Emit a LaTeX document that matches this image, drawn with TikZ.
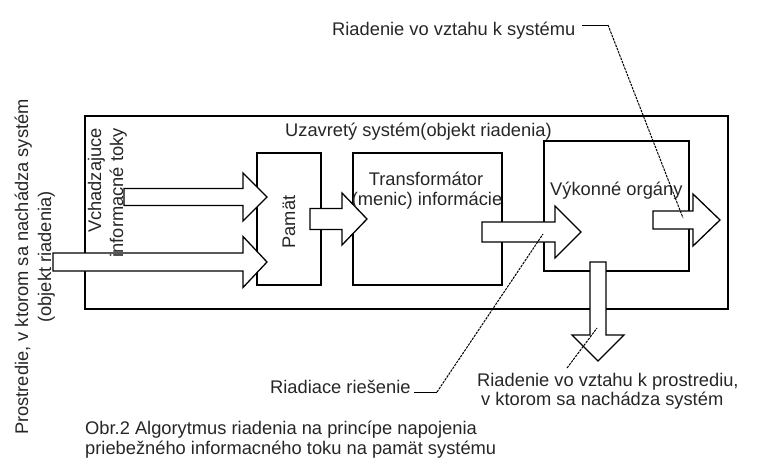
\documentclass[tikz,border=0pt]{standalone}
\usepackage{fontspec}
\setmainfont{Liberation Sans}
\newcommand\rblk[6]{% x0, base, tip, yc, shaft half, head half
  \draw[blk] ({#1},{-(#4)+(#5)}) -- ({#2},{-(#4)+(#5)}) -- ({#2},{-(#4)+(#6)}) -- ({#3},{-(#4)}) -- ({#2},{-(#4)-(#6)}) -- ({#2},{-(#4)-(#5)}) -- ({#1},{-(#4)-(#5)}) -- cycle;}
\newcommand\dblk[6]{% y0, base, tip, xc, shaft half, head half
  \draw[blk] ({(#4)-(#5)},{-(#1)}) -- ({(#4)-(#5)},{-(#2)}) -- ({(#4)-(#6)},{-(#2)}) -- ({#4},{-(#3)}) -- ({(#4)+(#6)},{-(#2)}) -- ({(#4)+(#5)},{-(#2)}) -- ({(#4)+(#5)},{-(#1)}) -- cycle;}
\begin{document}
\begin{tikzpicture}[x=1pt,y=1pt,
  lbl/.style={inner sep=0pt, text=black!85, font=\fontsize{18.3}{18.3}\selectfont},
  boxthin/.style={draw, line width=1.3pt, inner sep=0pt},
  blk/.style={draw, fill=white, line width=1.3pt, line join=miter},
  leader/.style={line width=1pt, dash pattern=on 2.5pt off 1pt},
  solidleader/.style={line width=1pt}]
\useasboundingbox (0,0) rectangle (762,-464);
% boxes
\node[draw, line width=2.6pt, minimum width=643pt, minimum height=193pt, inner sep=0pt] (outer) at (406.5,-212.5) {};
\node[boxthin, minimum width=64pt, minimum height=132pt] (pam) at (289,-219) {};
\node[boxthin, minimum width=149pt, minimum height=132pt] (trans) at (427.5,-219) {};
\node[boxthin, minimum width=145pt, minimum height=130pt] (vyk) at (616.5,-206) {};
% block arrows
\rblk{124}{243}{267}{197}{8.5}{24}
\rblk{53}{243}{267}{262}{9}{25.5}
\rblk{310}{342}{367}{219}{10.5}{26}
\rblk{482}{555}{581}{232}{10}{26}
\rblk{653}{693}{720}{220}{9}{26}
\dblk{262}{335}{361}{598}{8}{26}
% texts
\node[lbl, anchor=base west] (tsys) at (285,-136) {Uzavretý systém(objekt riadenia)};
\node[lbl, rotate=90] (tpam) at (289,-222) {Pamät};
\node[lbl, anchor=base] (ttr1) at (426,-185) {Transformátor};
\node[lbl, anchor=base] (ttr2) at (427,-205) {(menic) informácie};
\node[lbl, anchor=base west] (tvyk) at (550,-195) {Výkonné orgány};
\node[lbl, anchor=base east, rotate=90] (tin1) at (101,-128) {Vchadzajuce};
\node[lbl, anchor=base east, rotate=90] (tin2) at (123,-128) {informacné toky};
\node[lbl, anchor=base, rotate=90] (tenv1) at (28,-267) {Prostredie, v ktorom sa nachádza systém};
\node[lbl, anchor=base, rotate=90] (tenv2) at (51,-257) {(objekt riadenia)};
\node[lbl, anchor=base west] (trs) at (332,-35) {Riadenie vo vztahu k systému};
\node[lbl, anchor=base west] (trr) at (270,-393) {Riadiace riešenie};
\node[lbl, anchor=base west] (trp1) at (477,-386) {Riadenie vo vztahu k prostrediu,};
\node[lbl, anchor=base west] (trp2) at (481,-405) {v ktorom sa nachádza systém};
\node[lbl, anchor=base west] (cap1) at (85,-434) {Obr.2 Algorytmus riadenia na princípe napojenia};
\node[lbl, anchor=base west] (cap2) at (85,-454) {priebežného informacného toku na pamät systému};
% leaders
\coordinate (l1a) at (582,-25);
\coordinate (l1b) at (608,-25);
\coordinate (l1c) at (683,-218);
\draw[solidleader] (l1a) -- (l1b);
\draw[leader] (l1b) -- (l1c);
\coordinate (l2a) at (414,-392);
\coordinate (l2b) at (437,-392);
\coordinate (l2c) at (543,-234);
\draw[solidleader] (l2a) -- (l2b);
\draw[leader] (l2b) -- (l2c);
\coordinate (l3a) at (567,-368);
\coordinate (l3b) at (597,-328);
\draw[leader] (l3a) -- (l3b);
\end{tikzpicture}
\end{document}
